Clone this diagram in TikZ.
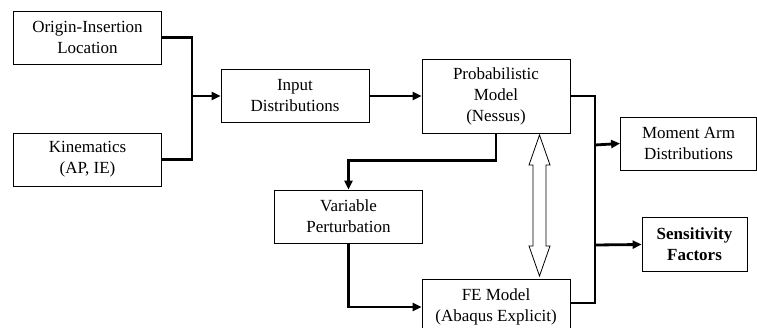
\documentclass[tikz,border=0pt]{standalone}
\usepackage{fontspec}
\setmainfont{Liberation Serif}
\usetikzlibrary{arrows.meta}

\begin{document}
\begin{tikzpicture}[x=1pt, y=-1pt,
	box/.style={draw, line width=0.8pt, align=center, inner sep=2pt,
		minimum width=148pt, minimum height=53pt,
		font=\fontsize{17}{21}\selectfont},
	wire/.style={line width=2.8pt},
	flow/.style={wire, -{Triangle[length=9pt,width=8pt]}},
	swap/.style={line width=0.8pt, line join=miter}]

		\useasboundingbox (0, 0) rectangle (757, 328);

		\node[box] (O) at (87.5, 37.5) {Origin-Insertion\\Location};
		\node[box] (K) at (87.5, 159.5) {Kinematics\\(AP, IE)};
		\node[box] (I) at (295, 96) {Input\\Distributions};
		\node[box, minimum height=74pt] (P) at (496, 96) {Probabilistic\\Model\\(Nessus)};
		\node[box] (V) at (348.5, 216.5) {Variable\\Perturbation};
		\node[box, minimum height=56pt] (F) at (496, 307) {FE Model\\(Abaqus Explicit)};
		\node[box, minimum width=136pt] (M) at (688.5, 143.5) {Moment Arm\\Distributions};
		\node[box, minimum width=105pt, minimum height=54pt] (S) at (694.5, 244.5) {\textbf{Sensitivity}\\\textbf{Factors}};

		\coordinate (J1) at (192, 96);
		\coordinate (J2) at (595, 145);
		\coordinate (J3) at (595, 245);

		\draw[wire] (O.east) -| (J1);
		\draw[wire] (K.east) -| (J1);
		\draw[flow] (J1) -- (I.west);
		\draw[flow] (I) -- (P);

		\draw[wire] (P.east) -| (J2);
		\draw[wire] ([yshift=4pt]F.east) -| (J3);
		\draw[wire] (J2) -- (J3);
		\draw[flow] (J2) -- (M.west);
		\draw[flow] (J3) -- (S.west);

		\draw[flow] (P.south) -- ++(0, 27) -| (V.north);
		\draw[flow] (V.south) |- (F.west);

		% open double arrow between the two models
		\coordinate (D1) at (539.5, 135);
		\coordinate (D2) at (539.5, 276);
		\draw[swap] (D1) -- ++(10.5, 30) -- ++(-4, 0) -- ++(0, 81) -- ++(4, 0)
			-- (D2) -- ++(-10.5, -30) -- ++(4, 0) -- ++(0, -81) -- ++(-4, 0) -- cycle;

	\end{tikzpicture}
\end{document}
